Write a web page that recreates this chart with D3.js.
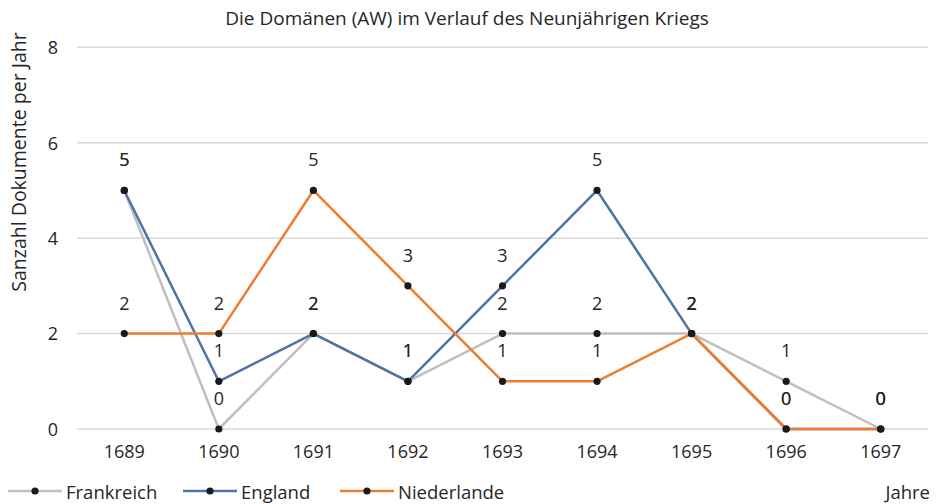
<!DOCTYPE html>
<html>
<head>
<meta charset="utf-8">
<script src="https://cdn.jsdelivr.net/npm/d3@7"></script>
<style>
  html, body { margin: 0; padding: 0; background: #fff; }
  svg { display: block; font-family: "Open Sans", "Noto Sans", sans-serif; }
</style>
</head>
<body>
<svg id="chart" width="936" height="504"></svg>
<script>
// Years of the Nine Years' War and documents per year, per party
const years = ["1689", "1690", "1691", "1692", "1693", "1694", "1695", "1696", "1697"];
const frankreich = [5, 0, 2, 1, 2, 2, 2, 1, 0];
const england = [5, 1, 2, 1, 3, 5, 2, 0, 0];
const niederlande = [2, 2, 5, 3, 1, 1, 2, 0, 0];
const yTicks = [0, 2, 4, 6, 8];

const seriesNames = ["Frankreich", "England", "Niederlande"];
const seriesValues = [frankreich, england, niederlande];
const seriesColors = ["#bfbfbf", "#4f73a6", "#ed7d31"];

const series = seriesNames.map((name, i) => ({
  name, color: seriesColors[i],
  values: seriesValues[i].map((v, j) => ({ year: years[j], value: v }))
}));

const svg = d3.select("#chart");
const textColor = "#262626";

const x = d3.scaleBand().domain(years).range([77, 928]);
const y = d3.scaleLinear().domain([0, 8]).range([429, 47.3]);
const cx = d => x(d) + x.bandwidth() / 2;

// Title
svg.append("text")
  .attr("x", 467).attr("y", 18)
  .attr("text-anchor", "middle").attr("dominant-baseline", "central")
  .attr("font-size", 19).attr("fill", textColor)
  .text("Die Domänen (AW) im Verlauf des Neunjährigen Kriegs");

// Horizontal gridlines
svg.append("g")
  .selectAll("line").data(yTicks).join("line")
  .attr("x1", 77).attr("x2", 928)
  .attr("y1", d => y(d)).attr("y2", d => y(d))
  .attr("stroke", "#d9d9d9").attr("stroke-width", 1.5);

// Y axis
const yAxis = svg.append("g")
  .attr("transform", "translate(58,0)")
  .call(d3.axisLeft(y).tickValues(yTicks).tickSize(0).tickPadding(0));
yAxis.select(".domain").remove();
yAxis.selectAll("text").attr("font-size", 18).attr("fill", textColor)
  .attr("font-family", "'Open Sans', sans-serif").attr("dy", "0.35em");

// X axis
const xAxis = svg.append("g")
  .attr("transform", "translate(0,429)")
  .call(d3.axisBottom(x).tickSize(0).tickPadding(0));
xAxis.select(".domain").remove();
xAxis.selectAll("text").attr("font-size", 18).attr("fill", textColor)
  .attr("font-family", "'Open Sans', sans-serif").attr("y", 23).attr("dy", "0.35em");

// Axis titles
svg.append("text")
  .attr("transform", "translate(18,162) rotate(-90)")
  .attr("text-anchor", "middle").attr("dominant-baseline", "central")
  .attr("font-size", 19.5).attr("fill", textColor)
  .text("Sanzahl Dokumente per Jahr");

svg.append("text")
  .attr("x", 930).attr("y", 491)
  .attr("text-anchor", "end").attr("dominant-baseline", "central")
  .attr("font-size", 18.5).attr("fill", textColor)
  .text("Jahre");

// Lines
const line = d3.line().x(d => cx(d.year)).y(d => y(d.value));
svg.append("g").selectAll("path").data(series).join("path")
  .attr("d", d => line(d.values))
  .attr("fill", "none")
  .attr("stroke", d => d.color)
  .attr("stroke-width", 2.5)
  .attr("stroke-linejoin", "round");

// Markers
svg.append("g").selectAll("g").data(series).join("g")
  .selectAll("circle").data(d => d.values).join("circle")
  .attr("cx", d => cx(d.year)).attr("cy", d => y(d.value))
  .attr("r", 3.6).attr("fill", "#1a1a1a");

// Value labels above each point
svg.append("g").selectAll("g").data(series).join("g")
  .selectAll("text").data(d => d.values).join("text")
  .attr("x", d => cx(d.year)).attr("y", d => y(d.value) - 31)
  .attr("text-anchor", "middle").attr("dominant-baseline", "central")
  .attr("font-size", 18).attr("fill", textColor)
  .text(d => d.value);

// Legend
const legend = svg.append("g").selectAll("g").data(series).join("g")
  .attr("transform", (d, i) => `translate(${[8, 183, 340][i]},491)`);
legend.append("line")
  .attr("x1", 0).attr("x2", 54)
  .attr("stroke", d => d.color).attr("stroke-width", 2.5);
legend.append("circle")
  .attr("cx", 27).attr("r", 3.6).attr("fill", "#1a1a1a");
legend.append("text")
  .attr("x", 58).attr("dominant-baseline", "central")
  .attr("font-size", 18.5).attr("fill", textColor)
  .text(d => d.name);
</script>
</body>
</html>
